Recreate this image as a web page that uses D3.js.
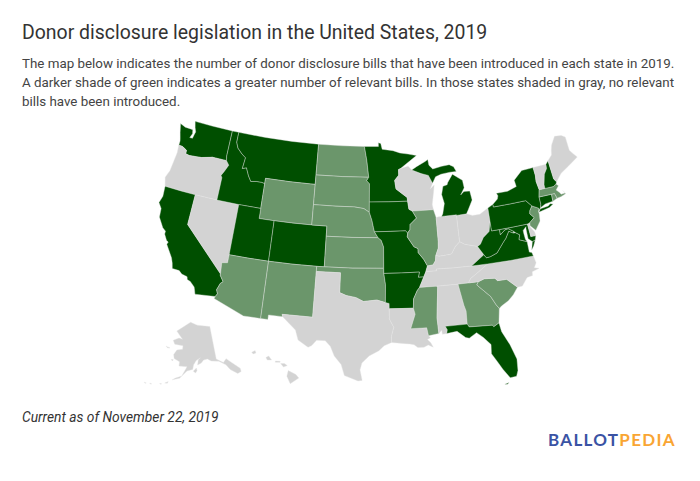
<!DOCTYPE html>
<html>
<head>
<meta charset="utf-8">
<script src="https://cdn.jsdelivr.net/npm/d3@7"></script>
<style>
  html, body { margin: 0; background: #fff; }
  text { font-family: Roboto, sans-serif; }
</style>
</head>
<body>
<div id="vis"></div>
<script>
const titleText = "Donor disclosure legislation in the United States, 2019";
const bodyLines = [
  "The map below indicates the number of donor disclosure bills that have been introduced in each state in 2019.",
  "A darker shade of green indicates a greater number of relevant bills. In those states shaded in gray, no relevant",
  "bills have been introduced."
];
const noteText = "Current as of November 22, 2019";

// shade groups
const darkStates = ["WA","ID","MT","CA","UT","CO","MN","IA","MO","AR","MI","NY","PA","WV","VA","MD","NH","CT","FL"];
const midStates = ["ND","SD","NE","KS","WY","AZ","NM","OK","IL","MS","GA","SC","NJ","MA","RI"];

// state outlines, [lon, lat] rings
const WA = [[[-124.73,48.38],[-123.9,48.16],[-123.2,48.15],[-122.75,48.14],[-122.62,47.75],[-122.85,47.3],[-122.45,47.3],[-122.35,47.7],[-122.25,48.0],[-122.5,48.4],[-122.75,49],[-120,49],[-117.03,49],[-117.04,46.42],[-116.92,45.99],[-118.98,46],[-119.3,45.93],[-120.5,45.7],[-121.2,45.65],[-122.2,45.58],[-122.76,45.65],[-122.8,46],[-123.2,46.15],[-123.55,46.26],[-124.05,46.27],[-124.05,46.7],[-124.15,46.95],[-124.4,47.5]]];
const OR = [[[-124.05,46.27],[-123.55,46.26],[-123.2,46.15],[-122.8,46],[-122.76,45.65],[-122.2,45.58],[-121.2,45.65],[-120.5,45.7],[-119.3,45.93],[-118.98,46],[-116.92,45.99],[-116.47,45.6],[-116.9,44.9],[-117.22,44.45],[-117.03,44.25],[-117.03,42],[-120,42],[-122,42],[-124.21,42],[-124.55,42.84],[-124.2,43.6],[-124.07,44.6],[-123.96,45.5]]];
const CA = [[[-124.21,42],[-122,42],[-120,42],[-120,39],[-114.63,35],[-114.63,34.87],[-114.14,34.3],[-114.43,34.08],[-114.72,33.4],[-114.52,33.03],[-114.72,32.72],[-117.12,32.53],[-117.25,32.87],[-117.4,33.2],[-118,33.65],[-118.4,33.75],[-118.5,34.03],[-119.2,34.15],[-119.6,34.42],[-120.47,34.45],[-120.65,34.98],[-120.9,35.45],[-121.9,36.6],[-121.8,36.85],[-122.05,36.95],[-122.5,37.5],[-122.5,37.8],[-122.95,38.05],[-123.75,38.95],[-123.85,39.8],[-124.35,40.3],[-124.1,41]]];
const NV = [[[-120,42],[-117.03,42],[-114.04,42],[-114.04,36.2],[-114.74,36.1],[-114.63,35],[-120,39]]];
const ID = [[[-117.03,49],[-116.05,49],[-116.05,48],[-115.7,47.45],[-114.95,46.95],[-114.35,46.65],[-114.5,45.55],[-113.95,45.7],[-113.45,44.95],[-113,44.45],[-112.2,44.55],[-111.5,44.55],[-111.05,44.48],[-111.05,42],[-114.04,42],[-117.03,42],[-117.03,44.25],[-117.22,44.45],[-116.9,44.9],[-116.47,45.6],[-116.92,45.99],[-117.04,46.42]]];
const MT = [[[-116.05,49],[-112,49],[-108,49],[-104.05,49],[-104.05,45.94],[-104.05,45],[-107.5,45],[-111.05,45],[-111.05,44.48],[-111.5,44.55],[-112.2,44.55],[-113,44.45],[-113.45,44.95],[-113.95,45.7],[-114.5,45.55],[-114.35,46.65],[-114.95,46.95],[-115.7,47.45],[-116.05,48]]];
const WY = [[[-111.05,45],[-107.5,45],[-104.05,45],[-104.05,43],[-104.05,41],[-106.5,41],[-109.05,41],[-111.05,41],[-111.05,42],[-111.05,44.48]]];
const UT = [[[-114.04,42],[-111.05,42],[-111.05,41],[-109.05,41],[-109.05,37],[-111.5,37],[-114.04,37],[-114.04,36.2]]];
const CO = [[[-109.05,41],[-106.5,41],[-104.05,41],[-102.05,41],[-102.05,40],[-102.05,37],[-103,37],[-106,37],[-109.05,37]]];
const AZ = [[[-114.04,37],[-111.5,37],[-109.05,37],[-109.05,31.33],[-111.07,31.33],[-114.8,32.5],[-114.72,32.72],[-114.52,33.03],[-114.72,33.4],[-114.43,34.08],[-114.14,34.3],[-114.63,34.87],[-114.63,35],[-114.74,36.1],[-114.04,36.2]]];
const NM = [[[-109.05,37],[-106,37],[-103,37],[-103,36.5],[-103.04,32],[-106.62,32],[-106.53,31.78],[-108.2,31.78],[-108.2,31.33],[-109.05,31.33]]];
const ND = [[[-104.05,49],[-100.5,49],[-97.23,49],[-96.85,47.6],[-96.56,45.94],[-100.3,45.94],[-104.05,45.94]]];
const SD = [[[-104.05,45.94],[-100.3,45.94],[-96.56,45.94],[-96.85,45.6],[-96.45,45.3],[-96.45,43.5],[-96.45,42.49],[-97.2,42.85],[-98.5,43],[-101,43],[-104.05,43],[-104.05,45]]];
const NE = [[[-104.05,43],[-101,43],[-98.5,43],[-97.2,42.85],[-96.45,42.49],[-96.1,41.7],[-95.9,41],[-95.77,40.58],[-95.3,40],[-98.7,40],[-102.05,40],[-102.05,41],[-104.05,41]]];
const KS = [[[-102.05,40],[-98.7,40],[-95.3,40],[-94.9,39.75],[-94.6,39.1],[-94.62,37],[-98.5,37],[-102.05,37]]];
const OK = [[[-103,37],[-102.05,37],[-98.5,37],[-94.62,37],[-94.62,36.5],[-94.43,35.4],[-94.48,33.64],[-95.5,33.9],[-97.1,33.75],[-98,34.12],[-99.2,34.3],[-100,34.56],[-100,36.5],[-103,36.5]]];
const TX = [[[-103,36.5],[-100,36.5],[-100,34.56],[-99.2,34.3],[-98,34.12],[-97.1,33.75],[-95.5,33.9],[-94.48,33.64],[-94.04,33.55],[-94.04,33.02],[-94.04,32],[-93.55,31.2],[-93.85,30.3],[-93.85,29.7],[-94.7,29.4],[-95.3,28.9],[-96.4,28.4],[-97.2,27.7],[-97.4,27],[-97.15,25.96],[-97.6,25.9],[-99.1,26.4],[-99.5,27.5],[-100.3,28.3],[-100.8,29.25],[-101.4,29.77],[-102.4,29.77],[-102.9,29.2],[-103.3,29],[-104.5,29.65],[-104.9,30.6],[-106.53,31.78],[-106.62,32],[-103.04,32]]];
const MN = [[[-97.23,49],[-95.15,49],[-95.15,49.38],[-94.8,49.3],[-94.6,48.72],[-93,48.55],[-92,48.3],[-90.8,48.15],[-89.6,47.95],[-92,46.75],[-92.3,46.65],[-92.3,46.1],[-92.9,45.6],[-92.75,44.75],[-91.25,43.85],[-91.22,43.5],[-93.8,43.5],[-96.45,43.5],[-96.45,45.3],[-96.85,45.6],[-96.56,45.94],[-96.85,47.6]]];
const IA = [[[-96.45,43.5],[-93.8,43.5],[-91.22,43.5],[-91.1,42.7],[-90.65,42.5],[-90.15,41.8],[-91.05,41.2],[-91.1,40.7],[-91.42,40.38],[-91.7,40.6],[-93.7,40.6],[-95.77,40.58],[-95.9,41],[-96.1,41.7],[-96.45,42.49]]];
const MO = [[[-95.77,40.58],[-93.7,40.6],[-91.7,40.6],[-91.42,40.38],[-91.5,40],[-90.7,39],[-90.2,38.8],[-90.2,38.4],[-89.55,37.7],[-89.15,37.05],[-89.4,36.5],[-89.7,36],[-90.37,36],[-90.2,36.5],[-92.4,36.5],[-94.62,36.5],[-94.62,37],[-94.6,39.1],[-94.9,39.75],[-95.3,40]]];
const AR = [[[-94.62,36.5],[-92.4,36.5],[-90.2,36.5],[-90.37,36],[-89.7,36],[-90.3,35],[-90.6,34.7],[-91.1,33.9],[-91.17,33],[-94.04,33.02],[-94.04,33.55],[-94.48,33.64],[-94.43,35.4]]];
const LA = [[[-94.04,33.02],[-91.17,33],[-91,32.4],[-91.6,31],[-89.75,31],[-89.6,30.2],[-89.4,30],[-89.75,29.85],[-89.4,29.5],[-89.15,29.05],[-89.7,29.3],[-90.2,29.1],[-90.9,29.1],[-91.3,29.4],[-91.8,29.5],[-92.3,29.55],[-93.85,29.7],[-93.85,30.3],[-93.55,31.2],[-94.04,32]]];
const WI = [[[-92.3,46.65],[-92,46.75],[-90.9,46.95],[-90.4,46.55],[-89.1,46.13],[-88.1,45.9],[-87.6,45.1],[-88,44.55],[-87.4,44.9],[-87.55,44.3],[-87.9,43],[-87.8,42.49],[-90.65,42.5],[-91.1,42.7],[-91.22,43.5],[-91.25,43.85],[-92.75,44.75],[-92.9,45.6],[-92.3,46.1]]];
const IL = [[[-90.65,42.5],[-87.8,42.49],[-87.53,41.7],[-87.53,39.35],[-87.6,38.7],[-88,38],[-88.1,37.5],[-88.45,37.1],[-89.15,37.05],[-89.55,37.7],[-90.2,38.4],[-90.2,38.8],[-90.7,39],[-91.5,40],[-91.42,40.38],[-91.1,40.7],[-91.05,41.2],[-90.15,41.8]]];
const IN = [[[-87.53,41.7],[-87.2,41.75],[-86.8,41.76],[-84.8,41.76],[-84.8,39.1],[-85.4,38.7],[-86,38],[-86.8,37.95],[-87.6,37.9],[-88,38],[-87.6,38.7],[-87.53,39.35]]];
const OH = [[[-84.8,41.76],[-84.8,41.7],[-83.45,41.73],[-82.7,41.5],[-81.7,41.5],[-80.52,41.98],[-80.52,40.64],[-80.85,39.7],[-81.7,39.2],[-82.2,38.6],[-82.6,38.42],[-83.6,38.65],[-84.2,38.8],[-84.8,39.1]]];
const KY = [[[-84.8,39.1],[-84.2,38.8],[-83.6,38.65],[-82.6,38.42],[-82,37.53],[-81.97,37.53],[-83.68,36.6],[-86,36.63],[-88.07,36.68],[-88.05,36.5],[-89.4,36.5],[-89.15,37.05],[-88.45,37.1],[-88.1,37.5],[-88,38],[-87.6,37.9],[-86.8,37.95],[-86,38],[-85.4,38.7]]];
const TN = [[[-89.7,36],[-90.3,35],[-88.2,35],[-85.6,35],[-84.32,35],[-84,35.4],[-82.9,35.95],[-81.68,36.59],[-83.68,36.6],[-86,36.63],[-88.07,36.68],[-88.05,36.5],[-89.4,36.5]]];
const MS = [[[-90.3,35],[-88.2,35],[-88.1,34.9],[-88.47,31.9],[-88.4,30.35],[-89.6,30.2],[-89.75,31],[-91.6,31],[-91,32.4],[-91.17,33],[-91.1,33.9],[-90.6,34.7]]];
const AL = [[[-88.2,35],[-85.6,35],[-85.18,32.87],[-85,32.3],[-85.05,31],[-87.6,31],[-87.4,30.65],[-87.5,30.28],[-88,30.25],[-88.05,30.65],[-88.4,30.35],[-88.47,31.9],[-88.1,34.9]]];
const GA = [[[-85.6,35],[-84.32,35],[-83.1,35],[-83.35,34.7],[-81.9,33.4],[-81.4,32.5],[-81.1,32.1],[-81.4,30.7],[-82.05,30.4],[-82.2,30.57],[-84.86,30.7],[-85.05,31],[-85,32.3],[-85.18,32.87]]];
const FL = [[[-87.6,31],[-85.05,31],[-84.86,30.7],[-82.2,30.57],[-82.05,30.4],[-81.4,30.7],[-81.25,29.8],[-80.55,28.4],[-80.05,26.9],[-80.15,25.75],[-80.4,25.2],[-81.1,25.15],[-81.75,26.1],[-82.2,26.9],[-82.75,27.8],[-82.65,28.7],[-83.4,29.5],[-84.1,30.05],[-85,29.6],[-85.4,29.7],[-86.3,30.4],[-87.5,30.28],[-87.4,30.65]],
  [[-81.8,24.6],[-81.3,24.7],[-81.5,24.55]]];
const SC = [[[-83.1,35],[-82.35,35.2],[-81.05,35.1],[-80.8,34.82],[-79.67,34.8],[-78.55,33.86],[-79.2,33.2],[-79.9,32.7],[-80.8,32.3],[-81.1,32.1],[-81.4,32.5],[-81.9,33.4],[-83.35,34.7]]];
const NC = [[[-84.32,35],[-83.1,35],[-82.35,35.2],[-81.05,35.1],[-80.8,34.82],[-79.67,34.8],[-78.55,33.86],[-77.95,33.87],[-77.2,34.6],[-76.5,34.7],[-76.45,35.05],[-75.55,35.25],[-76.1,35.4],[-75.75,35.85],[-75.9,36.55],[-78.8,36.55],[-81.68,36.59],[-82.9,35.95],[-84,35.4]]];
const VA = [[[-83.68,36.6],[-81.68,36.59],[-78.8,36.55],[-75.9,36.55],[-76,36.9],[-76.3,37],[-76.3,37.55],[-76.3,38.05],[-77,38.3],[-77.25,38.4],[-77.05,38.85],[-77.5,39.12],[-77.8,39.14],[-78.35,39.4],[-78.87,38.77],[-79.3,38.42],[-80.3,37.5],[-81.2,37.25],[-81.7,37.2],[-81.97,37.53]],
  [[-75.95,37.15],[-75.6,37.5],[-75.25,38.03],[-75.65,37.95]]];
const WV = [[[-82.6,38.42],[-82.2,38.6],[-81.7,39.2],[-80.85,39.7],[-80.52,40.64],[-80.52,39.72],[-79.48,39.72],[-79.48,39.2],[-78.8,39.6],[-78.35,39.65],[-77.75,39.32],[-77.8,39.14],[-78.35,39.4],[-78.87,38.77],[-79.3,38.42],[-80.3,37.5],[-81.2,37.25],[-81.7,37.2],[-81.97,37.53]]];
const MD = [[[-79.48,39.72],[-78,39.72],[-75.79,39.72],[-75.7,38.46],[-75.05,38.45],[-75.25,38.03],[-75.65,37.95],[-76.1,38.3],[-76.1,39.3],[-76.05,39.5],[-76.5,39.2],[-76.5,38.9],[-76.45,38.3],[-76.3,38.05],[-77,38.3],[-77.25,38.4],[-77.05,38.85],[-77.5,39.12],[-77.75,39.32],[-78.35,39.65],[-78.8,39.6],[-79.48,39.2]]];
const DE = [[[-75.79,39.72],[-75.45,39.8],[-75.55,39.45],[-75.1,38.8],[-75.05,38.45],[-75.7,38.46]]];
const PA = [[[-80.52,41.98],[-79.76,42.27],[-79.76,42],[-77.5,42],[-75.35,42],[-74.7,41.36],[-75.1,40.95],[-75.2,40.65],[-74.75,40.2],[-75.45,39.8],[-75.79,39.72],[-78,39.72],[-79.48,39.72],[-80.52,39.72],[-80.52,40.64]]];
const NJ = [[[-74.7,41.36],[-73.9,41],[-74,40.7],[-74,40.4],[-74.1,39.75],[-74.9,38.95],[-75.5,39.5],[-75.45,39.8],[-74.75,40.2],[-75.2,40.65],[-75.1,40.95]]];
const NY = [[[-79.76,42.27],[-79.05,42.7],[-78.9,43],[-79.05,43.27],[-77.5,43.27],[-76.2,43.55],[-76.3,44.2],[-75,44.98],[-73.35,45],[-73.3,44.2],[-73.4,43.6],[-73.25,42.75],[-73.5,42.05],[-73.5,41.3],[-73.65,41],[-73.9,40.8],[-74,40.7],[-73.9,41],[-74.7,41.36],[-75.35,42],[-77.5,42],[-79.76,42]],
  [[-74,40.6],[-73.7,40.9],[-72.6,40.98],[-72.3,41.15],[-71.9,41.05],[-72.5,40.8]]];
const CT = [[[-73.5,42.05],[-71.8,42.02],[-71.85,41.32],[-72.9,41.25],[-73.65,41],[-73.5,41.3]]];
const RI = [[[-71.8,42.02],[-71.38,42.02],[-71.2,41.5],[-71.85,41.32]]];
const MA = [[[-73.25,42.75],[-71.3,42.7],[-70.85,42.88],[-70.6,42.65],[-71.05,42.3],[-70.65,41.95],[-70.55,41.78],[-70,41.8],[-70.2,42.08],[-69.95,41.7],[-70.65,41.55],[-71.2,41.5],[-71.38,42.02],[-71.8,42.02],[-73.5,42.05]]];
const VT = [[[-73.35,45],[-71.5,45],[-71.55,44.6],[-72.05,44.1],[-72.45,43.1],[-72.45,42.73],[-73.25,42.75],[-73.4,43.6],[-73.3,44.2]]];
const NH = [[[-71.5,45],[-71.08,45.3],[-70.98,43.4],[-70.7,43.07],[-70.85,42.88],[-71.3,42.7],[-72.45,42.73],[-72.45,43.1],[-72.05,44.1],[-71.55,44.6]]];
const ME = [[[-71.08,45.3],[-70.4,45.75],[-70.25,46.2],[-70,46.7],[-69.25,47.45],[-68.3,47.35],[-67.8,47.07],[-67.8,45.7],[-67.45,45.3],[-67,44.85],[-68.5,44.25],[-69.8,43.75],[-70.7,43.07],[-70.98,43.4]]];
const MI = [[[-86.8,41.76],[-84.8,41.76],[-84.8,41.7],[-83.45,41.73],[-83.15,42.1],[-82.45,43],[-82.6,43.9],[-83.4,43.95],[-83.9,43.65],[-83.3,44.3],[-83.4,45.05],[-84.7,45.78],[-85.5,45],[-85.6,44.8],[-86.2,44.7],[-86.5,43.9],[-86.25,43],[-86.6,42]],
  [[-90.4,46.55],[-89.1,46.13],[-88.1,45.9],[-87.6,45.1],[-87.1,45.7],[-86.3,45.9],[-85,46],[-84.1,46],[-84.4,46.5],[-85,46.75],[-86.1,46.67],[-87.4,46.5],[-87.9,46.9],[-88,47.47],[-88.4,47.3],[-89.7,46.85]]];
const AK = [[[-141,69.65],[-141,60.3],[-137.5,58.9],[-135.5,59.75],[-133.4,58.4],[-130,55.9],[-130.1,55],[-132,54.8],[-135,56.5],[-136.5,58.1],[-139.8,59.55],[-144,60],[-146,60.7],[-148.3,60.5],[-149.7,59.7],[-151.8,59.2],[-151.3,60.7],[-150,61.2],[-152.5,60.5],[-154,59.3],[-154.5,58],[-157.5,57.5],[-161,55.3],[-164.5,54.6],[-163,55.2],[-160,56],[-157.6,58.7],[-162,58.7],[-162,59.9],[-165.3,60.6],[-166,61.7],[-164.5,63.1],[-161,63.5],[-161,64.5],[-166.5,64.6],[-168,65.6],[-164.3,66.5],[-161.8,66.3],[-166.8,68.35],[-163,69.6],[-156.6,71.35],[-151,70.5]],
  [[-152.5,58.4],[-154.2,57.5],[-153,57],[-152.2,57.6]],
  [[-167.7,53.3],[-166.2,53.9],[-166.5,53.4]],
  [[-170,52.9],[-169,52.9],[-169.5,52.7]],
  [[-174.5,52.2],[-173.5,52.2],[-174,52]],
  [[-177,51.95],[-176,51.95],[-176.5,51.75]],
  [[-171.7,63.5],[-169,63.3],[-170.3,63.1]],
  [[-166.9,60.2],[-165.7,60.3],[-166,59.8]]];
const HI = [[[-155.9,20.25],[-155.1,19.85],[-154.8,19.5],[-155.7,18.95],[-156.05,19.7]],
  [[-156.7,20.95],[-156.3,20.95],[-156,20.75],[-156.4,20.6]],
  [[-158.25,21.55],[-157.95,21.7],[-157.65,21.3],[-158.1,21.3]],
  [[-159.75,22.05],[-159.4,22.23],[-159.3,22],[-159.6,21.9]],
  [[-157.25,21.2],[-156.75,21.17],[-156.75,21.08],[-157.25,21.08]]];

const stateShapes = {WA,OR,CA,NV,ID,MT,WY,UT,CO,AZ,NM,ND,SD,NE,KS,OK,TX,MN,IA,MO,AR,LA,WI,IL,IN,OH,KY,TN,MS,AL,GA,FL,SC,NC,VA,WV,MD,DE,PA,NJ,NY,CT,RI,MA,VT,NH,ME,MI,AK,HI};

const color = d3.scaleOrdinal()
  .domain([...darkStates, ...midStates])
  .range([...darkStates.map(() => "#004f00"), ...midStates.map(() => "#6b966b")])
  .unknown("#d3d3d3");

// rings have to wind the way d3.geo expects
function toFeature(id) {
  const polys = stateShapes[id].map(ring => {
    const closed = [...ring, ring[0]];
    const poly = {type: "Polygon", coordinates: [closed]};
    if (d3.geoArea(poly) > 2 * Math.PI) closed.reverse();
    return [closed];
  });
  return {type: "Feature", id: id, geometry: {type: "MultiPolygon", coordinates: polys}};
}

const states = Object.keys(stateShapes).map(toFeature);

const svg = d3.select("#vis").append("svg")
  .attr("width", 700)
  .attr("height", 481)
  .style("display", "block");

const projection = d3.geoAlbersUsa().scale(580).translate([368, 251]);
const path = d3.geoPath(projection);

svg.selectAll("path.state")
  .data(states)
  .join("path")
  .attr("class", "state")
  .attr("d", path)
  .attr("fill", d => color(d.id))
  .attr("stroke", "#e4e4e4")
  .attr("stroke-opacity", 0.65)
  .attr("stroke-width", 0.6)
  .attr("stroke-linejoin", "round");

svg.append("text")
  .attr("x", 22)
  .attr("y", 39)
  .attr("font-size", 19.45)
  .attr("fill", "#333")
  .text(titleText);

svg.selectAll("text.body")
  .data(bodyLines)
  .join("text")
  .attr("class", "body")
  .attr("x", 22)
  .attr("y", (d, i) => 68 + i * 19)
  .attr("font-size", 13.37)
  .attr("fill", "#444")
  .text(d => d);

svg.append("text")
  .attr("x", 22)
  .attr("y", 422)
  .attr("font-size", 13.8)
  .attr("font-style", "italic")
  .attr("fill", "#333")
  .text(noteText);

const logo = svg.append("text")
  .attr("x", 548)
  .attr("y", 446)
  .attr("font-size", 17)
  .attr("font-weight", 700)
  .style("font-family", "Lato, sans-serif")
  .style("letter-spacing", "1.3px");
logo.append("tspan").attr("fill", "#3a53a4").text("BALLOT");
logo.append("tspan").attr("fill", "#f9a533").text("PEDIA");
</script>
</body>
</html>
